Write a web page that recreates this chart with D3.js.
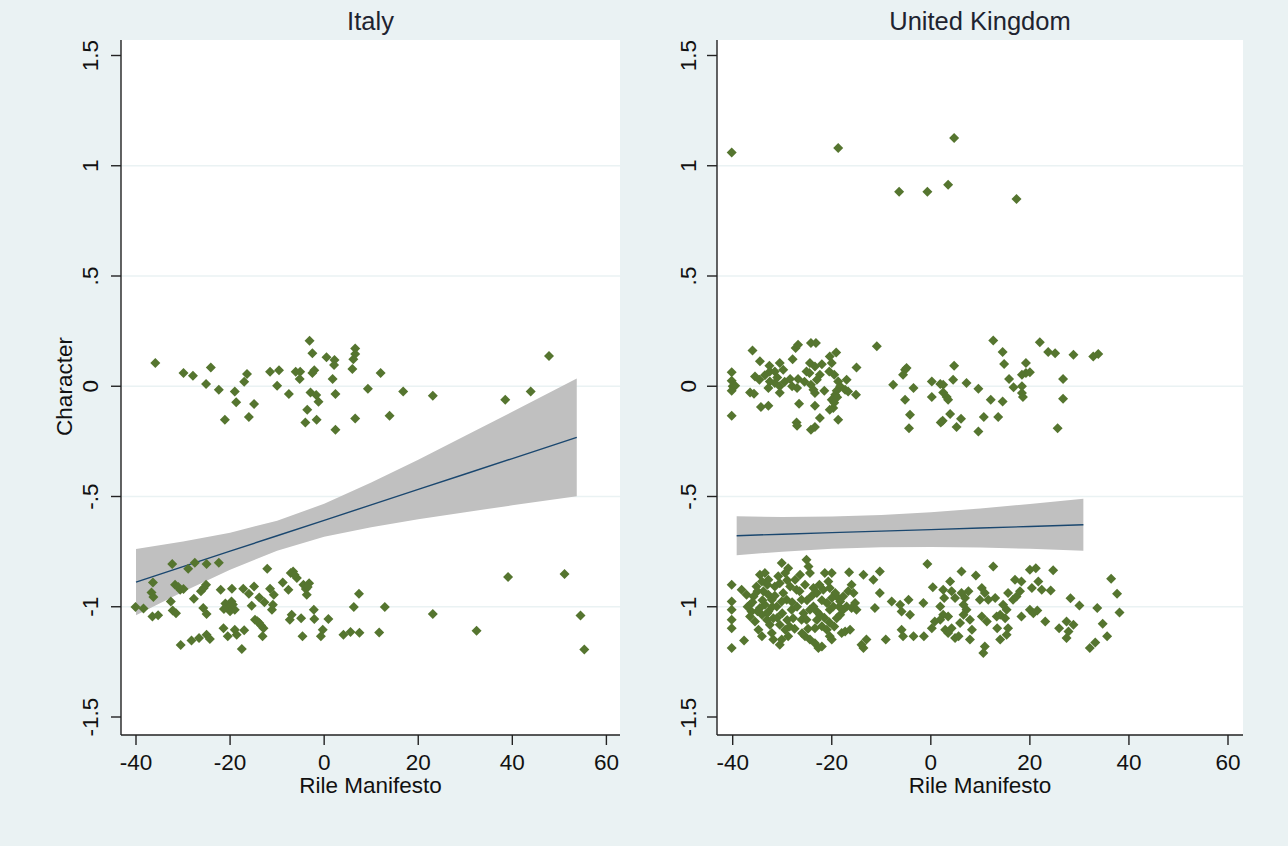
<!DOCTYPE html>
<html><head><meta charset="utf-8">
<script src="https://cdn.jsdelivr.net/npm/d3@7"></script>
<style>
body{margin:0;background:#fff;}
svg{display:block;font-family:"Liberation Sans",Arial,sans-serif;}
</style></head><body>
<svg id="c" width="1288" height="846"></svg>
<script>
const xTicks=[-40,-20,0,20,40,60];
const yTicks=[-1.5,-1,-0.5,0,0.5,1,1.5];
const yTickLabels=["-1.5","-1","-.5","0",".5","1","1.5"];
const panelTitles=["Italy","United Kingdom"];
const xTitle="Rile Manifesto", yTitle="Character";

const italyPoints=[
[-35.9,0.105],[-29.9,0.06],[-27.9,0.048],[-24.1,0.085],[-25.1,0.01],[-22.4,-0.016],[-19.0,-0.024],[-18.7,-0.073],[-21.1,-0.152],[-16.4,0.055],[-17.0,0.02],[-14.9,-0.081],[-16.0,-0.14],[-11.5,0.066],[-9.6,0.072],[-10.0,0.002],[-7.5,-0.035],[-6.05,0.066],[-5.1,0.066],[-5.2,0.033],[-3.1,0.206],[-2.5,0.15],[-2.1,0.072],[-2.5,0.06],[-2.9,-0.028],[-1.7,-0.04],[-1.2,-0.07],[-3.6,-0.107],[-4.0,-0.164],[-1.6,-0.152],[0.5,0.131],[2.2,0.119],[2.1,0.096],[1.8,0.033],[2.4,-0.035],[2.4,-0.197],[6.6,0.171],[6.6,0.146],[6.2,0.123],[6.0,0.078],[6.6,-0.146],[9.3,-0.011],[12.0,0.06],[13.9,-0.134],[16.8,-0.024],[23.1,-0.043],[38.5,-0.061],[43.9,-0.024],[47.8,0.137],
[-40.1,-1.001],[-38.4,-1.008],[-36.4,-0.89],[-36.7,-0.935],[-36.3,-0.956],[-36.5,-1.044],[-35.3,-1.039],[-32.3,-0.806],[-28.9,-0.828],[-27.5,-0.8],[-25.0,-0.806],[-22.4,-0.8],[-31.7,-0.9],[-30.6,-0.923],[-29.9,-0.92],[-32.6,-0.976],[-32.2,-1.017],[-31.5,-1.029],[-30.5,-1.174],[-28.2,-1.153],[-26.6,-1.142],[-25.0,-1.127],[-24.3,-1.146],[-27.7,-0.964],[-26.2,-0.93],[-25.1,-0.9],[-25.7,-1.006],[-25.0,-1.033],[-22.0,-0.923],[-19.6,-0.918],[-20.7,-0.999],[-19.7,-0.976],[-19.0,-1.014],[-21.4,-1.097],[-20.5,-1.134],[-19.0,-1.104],[-18.6,-1.127],[-17.0,-1.107],[-17.5,-1.192],[-17.2,-0.918],[-16.0,-0.941],[-14.9,-0.908],[-15.4,-0.995],[-13.8,-0.958],[-12.7,-0.98],[-14.7,-1.059],[-13.8,-1.074],[-12.9,-1.097],[-13.1,-1.134],[-12.1,-0.828],[-11.5,-0.918],[-10.7,-0.946],[-10.9,-0.991],[-11.1,-1.014],[-8.8,-0.89],[-7.6,-0.923],[-7.1,-0.847],[-6.6,-0.84],[-5.8,-0.87],[-4.4,-0.9],[-3.2,-0.893],[-3.7,-0.946],[-7.3,-1.059],[-6.9,-1.036],[-4.9,-1.052],[-2.2,-1.014],[-2.1,-1.056],[-0.3,-1.104],[-0.7,-1.134],[-4.6,-1.134],[0.9,-1.056],[4.1,-1.127],[5.6,-1.115],[7.5,-1.118],[6.3,-1.001],[7.4,-0.941],[11.7,-1.117],[12.9,-1.001],[23.1,-1.033],[32.4,-1.109],[39.1,-0.865],[51.1,-0.852],[54.5,-1.04],[55.3,-1.194],
[-21.0,-0.985],[-20.2,-1.005],[-19.4,-0.99],[-20.0,-1.02],[-21.3,-1.01],[-31.0,-0.91],[-25.6,-0.915],[-14.2,-1.066],[-13.4,-1.085],[-6.3,-0.855],[-3.9,-0.92],[-3.5,-0.91]
];

const ukPoints=[
[-40.2,1.06],[-18.7,1.08],[4.7,1.126],[-6.4,0.882],[-0.7,0.882],[3.5,0.914],[17.3,0.849],
[-40.2,0.063],[-40.2,0.025],[-40.0,0.0],[-40.2,-0.02],[-39.5,0.002],[-40.2,-0.134],[-36.0,0.162],[-34.5,0.113],[-35.5,0.044],[-34.6,0.03],[-36.5,-0.028],[-35.7,-0.034],[-34.3,-0.094],[-32.8,-0.088],[-32.6,0.093],[-32.5,0.067],[-31.5,0.067],[-30.5,0.105],[-29.8,0.075],[-32.5,0.022],[-31.5,0.015],[-30.5,0.0],[-32.8,-0.008],[-30.5,-0.03],[-28.4,0.033],[-26.8,0.033],[-27.9,0.123],[-27.3,0.173],[-26.8,0.188],[-27.0,-0.008],[-26.6,-0.079],[-27.1,-0.164],[-27.0,-0.179],[-24.2,0.196],[-23.2,0.196],[-25.1,0.067],[-24.4,0.105],[-23.4,0.09],[-24.5,0.06],[-22.4,0.052],[-24.2,0.007],[-23.7,-0.016],[-23.4,-0.031],[-23.0,0.03],[-23.4,-0.088],[-24.2,-0.197],[-23.4,-0.185],[-22.4,-0.144],[-20.4,0.135],[-19.1,0.153],[-20.0,0.105],[-20.5,0.067],[-19.5,0.052],[-18.7,0.022],[-18.3,0.0],[-19.3,-0.039],[-20.0,-0.061],[-19.7,-0.099],[-20.4,-0.107],[-18.7,-0.152],[-17.0,0.03],[-17.3,-0.016],[-16.7,-0.024],[-15.0,0.085],[-15.1,-0.039],[-10.9,0.181],[-7.6,0.007],[-5.2,0.075],[-4.9,0.083],[-5.6,0.052],[-3.5,-0.008],[-5.2,-0.061],[-4.2,-0.129],[-4.4,-0.19],[0.2,0.022],[1.9,0.01],[2.5,0.007],[0.2,-0.049],[2.5,-0.028],[3.2,-0.049],[3.5,-0.061],[4.5,0.03],[4.7,0.093],[7.2,0.015],[9.6,-0.011],[3.9,-0.126],[2.0,-0.164],[2.4,-0.156],[6.1,-0.147],[5.2,-0.185],[9.6,-0.205],[10.7,-0.14],[12.1,-0.061],[13.6,-0.14],[12.6,0.208],[14.5,0.155],[14.8,0.101],[15.8,0.033],[14.5,-0.069],[16.7,-0.005],[18.4,0.0],[18.4,-0.031],[18.6,-0.049],[18.4,0.052],[19.2,0.06],[20.0,0.063],[19.2,0.105],[22.0,0.2],[23.7,0.155],[25.1,0.15],[26.7,0.033],[26.7,-0.057],[25.6,-0.19],[28.8,0.143],[32.8,0.135],[33.8,0.146],
[-19.0,-0.02],[-19.5,-0.075],[-18.9,-0.05],[-31.0,0.04],[-29.5,0.02],[-33.5,0.05],[-28.0,0.0],[-25.5,0.02],[-21.5,-0.02],[-22.0,0.1],
[-40.2,-0.9],[-40.2,-0.976],[-40.2,-1.014],[-40.2,-1.059],[-40.2,-1.097],[-40.2,-1.187],[-37.7,-1.153],[-38.2,-0.923],[-37.2,-0.946],[-36.5,-0.991],[-36.2,-1.021],[-36.5,-1.044],[-35.5,-1.067],[-34.8,-1.104],[-34.1,-1.134],[-35.8,-0.953],[-35.2,-0.908],[-34.5,-0.855],[-33.5,-0.847],[-32.8,-0.878],[-34.1,-0.885],[-33.8,-0.93],[-32.8,-0.946],[-32.1,-0.968],[-33.5,-0.991],[-34.5,-1.006],[-32.8,-1.021],[-34.1,-1.036],[-33.1,-1.059],[-32.5,-1.082],[-32.1,-1.119],[-31.8,-1.149],[-30.5,-1.172],[-31.8,-1.052],[-31.1,-0.999],[-31.5,-0.908],[-30.5,-0.893],[-30.1,-0.802],[-30.8,-0.862],[-29.4,-0.847],[-28.8,-0.825],[-29.8,-0.938],[-29.1,-0.968],[-30.1,-0.976],[-30.5,-1.082],[-29.4,-1.104],[-30.1,-1.149],[-28.8,-1.134],[-28.1,-1.014],[-27.8,-1.052],[-28.4,-0.908],[-27.4,-0.878],[-27.1,-0.923],[-26.4,-0.855],[-25.1,-0.787],[-24.7,-0.817],[-24.4,-0.847],[-25.4,-0.9],[-26.1,-0.968],[-25.7,-1.029],[-26.1,-1.059],[-25.1,-1.059],[-25.4,-1.134],[-24.4,-1.149],[-23.4,-1.165],[-22.7,-1.187],[-22.0,-1.18],[-23.7,-0.915],[-23.0,-0.938],[-23.7,-0.999],[-24.4,-1.014],[-23.0,-1.021],[-22.4,-1.036],[-23.4,-1.097],[-22.0,-1.089],[-21.4,-0.847],[-20.0,-0.847],[-21.7,-0.923],[-20.7,-0.885],[-20.4,-0.915],[-21.0,-0.983],[-20.4,-1.014],[-19.7,-0.999],[-21.0,-1.104],[-20.4,-1.134],[-20.0,-1.149],[-19.3,-0.938],[-18.7,-0.96],[-19.0,-1.052],[-18.3,-1.036],[-17.7,-1.014],[-18.0,-1.119],[-17.3,-1.112],[-16.3,-1.104],[-18.3,-0.976],[-17.7,-0.953],[-16.7,-0.93],[-16.0,-0.9],[-15.6,-0.938],[-17.0,-0.999],[-16.0,-1.006],[-15.0,-1.014],[-15.3,-0.983],[-16.5,-0.844],[-13.6,-0.855],[-11.6,-0.878],[-10.3,-0.84],[-10.3,-0.938],[-11.3,-1.006],[-13.0,-1.149],[-13.6,-1.187],[-14.0,-1.172],[-9.1,-1.149],[-7.9,-0.976],[-6.2,-0.991],[-5.9,-1.021],[-4.5,-0.968],[-4.2,-1.036],[-5.9,-1.104],[-5.6,-1.134],[-3.5,-1.134],
[-37.0,-1.0],[-36.0,-0.98],[-35.0,-1.02],[-34.0,-0.97],[-33.0,-1.03],[-32.0,-1.0],[-31.0,-1.05],[-30.0,-1.03],[-29.0,-1.06],[-28.0,-0.98],[-27.0,-1.0],[-26.5,-0.93],[-27.5,-1.1],[-26.0,-1.12],[-25.0,-0.97],[-24.0,-0.95],[-23.0,-1.06],[-22.0,-0.97],[-21.5,-1.05],[-20.5,-1.07],[-19.5,-1.09],[-18.5,-1.0],[-29.0,-0.88],[-33.0,-0.9],[-35.0,-0.93],[-31.5,-0.95],[-28.5,-1.09],[-24.8,-1.1],[-22.5,-0.9],[-20.0,-0.96],
[-0.7,-0.806],[-1.4,-1.134],[-1.5,-0.983],[0.4,-0.911],[2.5,-0.923],[3.9,-0.885],[2.7,-0.96],[4.2,-0.93],[4.9,-0.96],[1.9,-0.999],[2.5,-1.036],[3.5,-1.044],[1.9,-1.059],[0.8,-1.067],[0.2,-1.097],[2.9,-1.104],[4.2,-1.097],[3.5,-1.119],[4.9,-1.142],[5.6,-1.134],[6.2,-0.84],[6.2,-0.938],[6.9,-0.96],[6.6,-0.991],[7.2,-1.014],[6.6,-1.036],[7.6,-0.93],[7.9,-1.059],[5.9,-1.074],[8.3,-1.104],[7.9,-1.149],[9.1,-0.858],[9.9,-0.968],[10.3,-0.915],[10.9,-0.938],[11.6,-0.968],[10.3,-1.044],[11.3,-1.067],[10.9,-1.18],[10.6,-1.21],[12.6,-0.817],[13.0,-0.96],[13.4,-1.097],[14.0,-1.149],[14.6,-0.991],[15.3,-1.014],[14.0,-1.036],[13.3,-1.044],[15.6,-0.938],[15.0,-1.052],[15.6,-1.097],[15.3,-1.127],[17.0,-0.878],[18.3,-0.885],[16.6,-0.968],[17.3,-0.953],[18.0,-0.93],[18.3,-1.044],[20.0,-0.832],[21.2,-0.825],[20.4,-0.915],[21.7,-0.885],[22.4,-0.923],[20.0,-1.014],[20.7,-1.029],[21.5,-1.017],[23.1,-1.067],[24.7,-0.835],[24.2,-0.926],[25.9,-1.097],[27.4,-1.067],[28.8,-1.082],[27.8,-1.112],[27.4,-1.142],[28.2,-0.962],[30.0,-0.994],[32.1,-1.187],[33.2,-1.162],[33.6,-1.006],[34.7,-1.077],[35.6,-1.134],[36.4,-0.873],[37.6,-0.941],[38.1,-1.026]
];

// confidence band and fitted line
const italyBandX=[-40,-30,-20,-10,0,10,20,30,40,53.7];
const italyBandHi=[-0.738,-0.704,-0.664,-0.610,-0.533,-0.437,-0.333,-0.225,-0.116,0.035];
const italyBandLo=[-1.038,-0.932,-0.832,-0.746,-0.683,-0.639,-0.603,-0.571,-0.540,-0.499];
const italyFit=[-0.888,-0.818,-0.748,-0.678,-0.608,-0.538,-0.468,-0.398,-0.328,-0.232];

const ukBandX=[-39.2,-30,-20,-10,0,10,20,30.8];
const ukBandHi=[-0.590,-0.593,-0.591,-0.584,-0.571,-0.554,-0.534,-0.510];
const ukBandLo=[-0.766,-0.750,-0.737,-0.730,-0.729,-0.731,-0.737,-0.746];
const ukFit=[-0.678,-0.671,-0.664,-0.657,-0.650,-0.643,-0.636,-0.628];

const svg=d3.select("#c");
svg.append("rect").attr("x",0).attr("y",0).attr("width",1288).attr("height",846).attr("fill","#EAF2F3");

const yScale=d3.scaleLinear().domain([-1.5,1.5]).range([717,55.5]);
const plotTop=40, plotBottom=735;

const panels=[
 {title:panelTitles[0],pts:italyPoints,bx:italyBandX,hi:italyBandHi,lo:italyBandLo,fit:italyFit,
  left:121,right:620,x0:136,x1:606.4,ylabX:90,yTitleX:64},
 {title:panelTitles[1],pts:ukPoints,bx:ukBandX,hi:ukBandHi,lo:ukBandLo,fit:ukFit,
  left:717,right:1243,x0:732.7,x1:1228,ylabX:688,yTitleX:null}
];

const diamond=r=>`M0,${-r}L${r},0L0,${r}L${-r},0Z`;
const tickFont=22.5, titleFont=25.5;

panels.forEach(p=>{
  const x=d3.scaleLinear().domain([-40,60]).range([p.x0,p.x1]);
  const g=svg.append("g");
  g.append("rect").attr("x",p.left).attr("y",plotTop).attr("width",p.right-p.left).attr("height",plotBottom-plotTop).attr("fill","#fff");
  g.selectAll(".grid").data(yTicks.filter(v=>Math.abs(v)<1.5)).enter().append("line")
   .attr("x1",p.left).attr("x2",p.right).attr("y1",d=>yScale(d)).attr("y2",d=>yScale(d))
   .attr("stroke","#EAF2F3").attr("stroke-width",1.5);
  const band=p.bx.map((v,i)=>({x:v,lo:p.lo[i],hi:p.hi[i],f:p.fit[i]}));
  g.append("path").datum(band).attr("fill","#C0C0C0")
   .attr("d",d3.area().x(d=>x(d.x)).y0(d=>yScale(d.lo)).y1(d=>yScale(d.hi)));
  g.append("path").datum(band).attr("fill","none").attr("stroke","#1A476F").attr("stroke-width",1.4)
   .attr("d",d3.line().x(d=>x(d.x)).y(d=>yScale(d.f)));
  g.selectAll(".pt").data(p.pts).enter().append("path")
   .attr("d",diamond(5)).attr("fill","#55752F")
   .attr("transform",d=>`translate(${x(d[0])},${yScale(d[1])})`);
  g.append("line").attr("x1",p.left).attr("x2",p.left).attr("y1",plotTop).attr("y2",plotBottom).attr("stroke","#222").attr("stroke-width",1.4);
  g.append("line").attr("x1",p.left).attr("x2",p.right).attr("y1",plotBottom).attr("y2",plotBottom).attr("stroke","#222").attr("stroke-width",1.4);
  yTicks.forEach((v,i)=>{
    g.append("line").attr("x1",p.left-10).attr("x2",p.left).attr("y1",yScale(v)).attr("y2",yScale(v)).attr("stroke","#222").attr("stroke-width",1.4);
    g.append("text").attr("transform",`translate(${p.ylabX},${yScale(v)}) rotate(-90)`)
     .attr("text-anchor","middle").attr("dominant-baseline","central")
     .attr("font-size",tickFont).attr("fill","#111").text(yTickLabels[i]);
  });
  xTicks.forEach(v=>{
    g.append("line").attr("x1",x(v)).attr("x2",x(v)).attr("y1",plotBottom).attr("y2",plotBottom+10).attr("stroke","#222").attr("stroke-width",1.4);
    g.append("text").attr("x",x(v)).attr("y",762).attr("text-anchor","middle").attr("dominant-baseline","central")
     .attr("font-size",tickFont).attr("fill","#111").text(v);
  });
  g.append("text").attr("x",(p.left+p.right)/2).attr("y",785).attr("text-anchor","middle").attr("dominant-baseline","central")
   .attr("font-size",tickFont).attr("fill","#111").text(xTitle);
  g.append("text").attr("x",(p.left+p.right)/2).attr("y",21).attr("text-anchor","middle").attr("dominant-baseline","central")
   .attr("font-size",titleFont).attr("fill","#1e2430").text(p.title);
  if(p.yTitleX!==null){
    g.append("text").attr("transform",`translate(${p.yTitleX},386.5) rotate(-90)`)
     .attr("text-anchor","middle").attr("dominant-baseline","central")
     .attr("font-size",tickFont).attr("fill","#111").text(yTitle);
  }
});
</script></body></html>
